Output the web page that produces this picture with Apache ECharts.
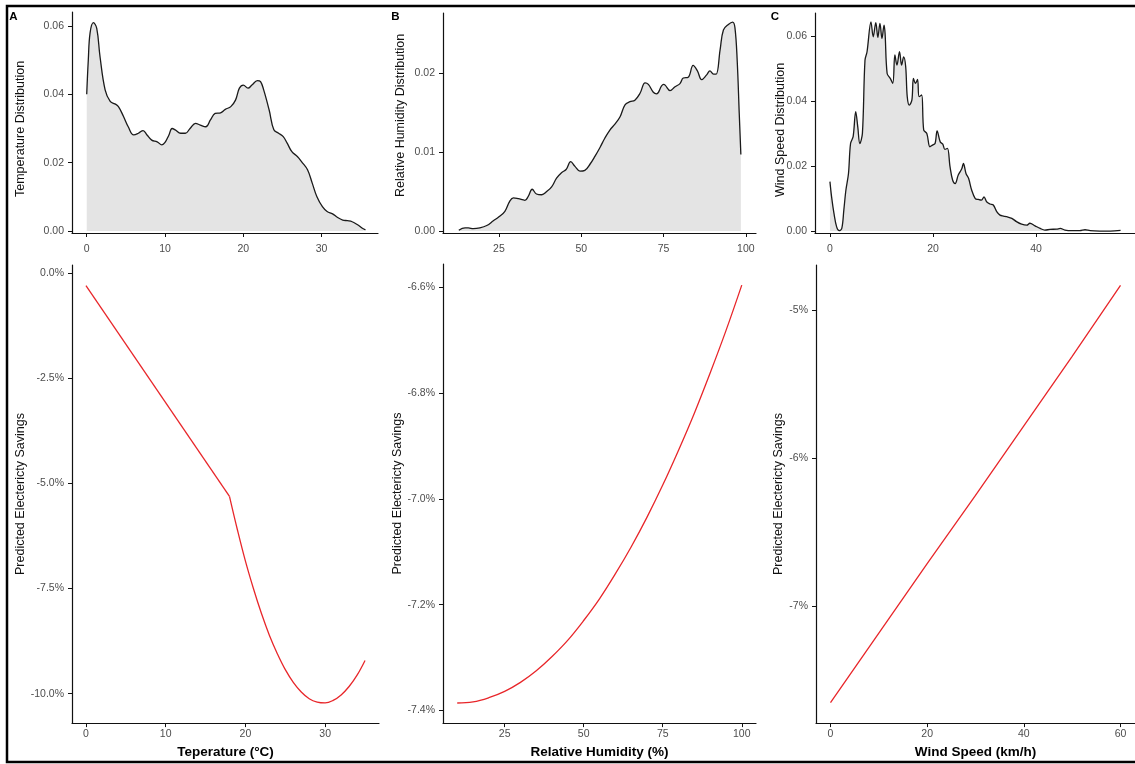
<!DOCTYPE html>
<html>
<head>
<meta charset="utf-8">
<script src="https://cdn.jsdelivr.net/npm/echarts@6/dist/echarts.min.js"></script>
<style>
html,body{margin:0;padding:0;background:#fff;}
#chart{width:1135px;height:764px;}
</style>
</head>
<body>
<div id="chart"></div>
<script>
// ---------- Panel A : temperature ----------
const tempX = [0,0.2,0.43,0.85,1.28,1.7,2.35,3.0,3.6,4.05,4.7,5.3,6.0,6.6,7.2,7.7,8.3,9.0,9.6,10.0,10.5,10.9,11.3,12.0,12.6,13.2,13.9,14.5,15.2,15.8,16.4,17.1,17.7,18.4,19.0,19.5,20.0,20.6,21.1,21.8,22.2,22.6,23.3,23.9,24.5,25.1,25.6,26.2,26.9,27.5,28.2,28.8,29.4,30.1,30.7,31.4,32.0,32.7,33.3,33.9,34.6,35.2,35.6];
const tempDensity = [0.040,0.050,0.058,0.061,0.0593,0.051,0.0413,0.0379,0.0372,0.0364,0.0335,0.0305,0.0281,0.0286,0.0294,0.0281,0.0266,0.0261,0.0252,0.0259,0.0281,0.0300,0.0296,0.0286,0.0286,0.0300,0.0315,0.0310,0.0305,0.0325,0.0344,0.0346,0.0356,0.0364,0.0383,0.0418,0.0427,0.0418,0.0427,0.0440,0.0437,0.0413,0.0354,0.0296,0.0286,0.0276,0.0257,0.0232,0.0218,0.0201,0.0179,0.0140,0.0100,0.0071,0.0057,0.0050,0.0040,0.0032,0.0030,0.0027,0.0018,0.0008,0.0003];
const tempLineX = [0,18];
const tempLineSavings = [-0.30,-5.31];
const tempCurveX = [18,19,20,21,22,23,24,25,26,27,28,29,30,31,32,33,34,35];
const tempCurveSavings = [-5.31,-6.11,-6.85,-7.50,-8.09,-8.61,-9.05,-9.43,-9.73,-9.96,-10.12,-10.20,-10.22,-10.16,-10.03,-9.83,-9.56,-9.21];
const tempXTicks = [0,10,20,30];
const tempDensTicks = [0,0.02,0.04,0.06];
const tempSavTicks = [0,-2.5,-5,-7.5,-10];

// ---------- Panel B : relative humidity ----------
const rhX = [12.8,14.7,15.7,17.2,19.2,21.3,23.3,25.0,26.8,28.3,29.4,30.9,32.9,33.9,35.1,36.4,38.0,39.5,41.0,42.5,44.0,45.4,46.8,48.1,49.6,51.1,52.7,54.2,55.7,57.2,58.7,60.3,61.8,63.3,64.8,66.3,67.9,69.4,70.4,71.9,72.9,74.4,75.0,75.5,77.0,78.5,80.0,81.0,82.5,84.0,85.3,86.6,88.1,89.1,90.2,91.0,92.2,93.2,94.7,96.0,96.7,97.4,98.0,98.5];
const rhDensity = [0.0001,0.0004,0.0004,0.0003,0.0004,0.0007,0.0013,0.0018,0.0025,0.0038,0.0042,0.0041,0.0039,0.0044,0.0053,0.0047,0.0046,0.0050,0.0056,0.0067,0.0074,0.0078,0.0088,0.0082,0.0076,0.0077,0.0085,0.0095,0.0106,0.0118,0.0128,0.0136,0.0145,0.0160,0.0164,0.0166,0.0175,0.0188,0.0186,0.0176,0.0174,0.0184,0.0186,0.0185,0.0178,0.0183,0.0187,0.0194,0.0195,0.0210,0.0203,0.0192,0.0198,0.0203,0.0199,0.0199,0.0230,0.0255,0.0262,0.0265,0.0258,0.0215,0.0150,0.0097];
const rhLineX = [10,15,20,25,30,35,40,45,50,55,60,65,70,75,80,85,90,95,100];
const rhSavings = [-7.386,-7.384,-7.376,-7.364,-7.347,-7.325,-7.298,-7.267,-7.230,-7.189,-7.142,-7.091,-7.035,-6.974,-6.908,-6.838,-6.762,-6.682,-6.596];
const rhXTicks = [25,50,75,100];
const rhDensTicks = [0,0.01,0.02];
const rhSavTicks = [-6.6,-6.8,-7.0,-7.2,-7.4];

// ---------- Panel C : wind speed ----------
const windX = [0,0.32,0.78,1.3,1.8,2.3,2.7,3.1,3.6,4.0,4.5,5.0,5.4,5.8,6.3,6.8,7.2,7.96,8.4,8.9,9.3,9.7,10.1,10.5,10.7,11.1,11.7,12.2,12.6,13.0,13.5,13.9,14.3,14.7,15.0,15.4,15.9,16.2,16.6,17.0,17.3,17.8,18.2,18.8,19.4,19.9,20.4,20.8,21.4,21.9,22.3,22.8,23.3,23.8,24.3,24.9,25.6,25.9,26.4,26.9,27.5,28.2,28.8,29.4,29.9,30.4,31.1,31.7,32.4,33.0,33.7,34.3,35.3,36.2,37.2,38.2,38.8,39.8,40.8,41.7,42.7,44.0,44.7,45.6,46.9,48.5,49.5,50.5,52.4,54.4,56.4];
const windDensity = [0.0152,0.0105,0.0054,0.0013,0.0001,0.0008,0.0065,0.0126,0.0177,0.0269,0.0290,0.0367,0.0320,0.0269,0.0300,0.0525,0.0551,0.0643,0.0597,0.0640,0.0595,0.0638,0.0592,0.0633,0.0607,0.0484,0.0469,0.0454,0.0541,0.0510,0.0551,0.0510,0.0535,0.0505,0.0413,0.0387,0.0402,0.0469,0.0454,0.0466,0.0413,0.0418,0.0310,0.0300,0.0259,0.0264,0.0269,0.0308,0.0274,0.0267,0.0251,0.0254,0.0198,0.0157,0.0146,0.0172,0.0192,0.0208,0.0177,0.0162,0.0126,0.0100,0.0097,0.0095,0.0105,0.0090,0.0083,0.0080,0.0059,0.0049,0.0046,0.0044,0.0039,0.0029,0.0021,0.0018,0.0024,0.0016,0.0008,0.0003,0.0005,0.0006,0.0008,0.0003,0.0001,0.0001,0.0004,0.0001,0.0000,0.0000,0.0002];
const windLineX = [0,10,20,30,40,50,60];
const windSavings = [-7.65,-7.18,-6.71,-6.25,-5.78,-5.31,-4.83];
const windDensXTicks = [0,20,40];
const windSavXTicks = [0,20,40,60];
const windDensTicks = [0,0.02,0.04,0.06];
const windSavTicks = [-5,-6,-7];

// ---------- titles ----------
const panelLetters = ['A','B','C'];
const densityTitles = ['Temperature Distribution','Relative Humidity Distribution','Wind Speed Distribution'];
const savingsTitle = 'Predicted Electericty Savings';
const xTitles = ['Teperature (°C)','Relative Humidity (%)','Wind Speed (km/h)'];

const zip = (xs, ys) => xs.map((x, i) => [x, ys[i]]);

const FONT = "'Liberation Sans', Arial, sans-serif";
const AXIS_COLOR = '#111';
const LABEL_COLOR = '#4d4d4d';
const AREA = '#e4e4e4';
const RED = '#e8262a';

function xAxisDef(grid, min, max, ticks, opts) {
  opts = opts || {};
  return {
    type: 'value', gridIndex: grid, min: min, max: max,
    axisLine: {show: true, onZero: false, lineStyle: {color: AXIS_COLOR, width: 1.2}},
    axisTick: {show: true, length: 4, customValues: ticks, lineStyle: {color: AXIS_COLOR, width: 1}},
    axisLabel: {customValues: ticks, margin: opts.margin || 6, color: LABEL_COLOR, fontSize: 10.5, fontFamily: FONT},
    splitLine: {show: false},
    name: opts.name || '', nameLocation: 'middle', nameGap: opts.nameGap || 14,
    nameTextStyle: {fontFamily: FONT, fontWeight: 'bold', fontSize: 13.5, color: '#000', verticalAlign: 'top'}
  };
}
function yAxisDef(grid, min, max, ticks, fmt, opts) {
  opts = opts || {};
  return {
    type: 'value', gridIndex: grid, min: min, max: max,
    axisLine: {show: true, onZero: false, lineStyle: {color: AXIS_COLOR, width: 1.2}},
    axisTick: {show: true, length: 4, customValues: ticks, lineStyle: {color: AXIS_COLOR, width: 1}},
    axisLabel: {customValues: ticks, margin: 8, color: LABEL_COLOR, fontSize: 10.5, fontFamily: FONT, formatter: fmt},
    splitLine: {show: false},
    name: opts.name || '', nameLocation: 'middle', nameGap: opts.nameGap || 40,
    nameTextStyle: {fontFamily: FONT, fontSize: 12.5, color: '#111'}
  };
}
const f2 = v => v.toFixed(2);
const pct1 = v => v.toFixed(1) + '%';
const pct0 = v => v.toFixed(0) + '%';

function densitySeries(i, xs, ys, smooth) {
  return {type: 'line', xAxisIndex: i, yAxisIndex: i, data: zip(xs, ys), showSymbol: false, smooth: smooth,
    lineStyle: {color: '#1a1a1a', width: 1.3}, areaStyle: {color: AREA, opacity: 1}, silent: true};
}
function redSeries(i, xs, ys, smooth) {
  return {type: 'line', xAxisIndex: i, yAxisIndex: i, data: zip(xs, ys), showSymbol: false, smooth: smooth,
    lineStyle: {color: RED, width: 1.3}, silent: true};
}

const option = {
  backgroundColor: '#fff',
  animation: false,
  grid: [
    {left: 72, top: 12, width: 306, height: 221},
    {left: 443, top: 13, width: 313, height: 220},
    {left: 815, top: 13, width: 320, height: 220},
    {left: 72, top: 265, width: 307, height: 471},
    {left: 443, top: 264, width: 313, height: 472},
    {left: 816, top: 265, width: 320, height: 471}
  ],
  xAxis: [
    xAxisDef(0, -1.88, 37.2, tempXTicks, {margin: 11}),
    xAxisDef(1, 8.0, 103.1, rhXTicks, {margin: 11}),
    xAxisDef(2, -2.9, 59.2, windDensXTicks, {margin: 11}),
    xAxisDef(3, -1.75, 36.75, tempXTicks, {name: xTitles[0], nameGap: 13}),
    xAxisDef(4, 5.5, 104.5, rhXTicks, {name: xTitles[1], nameGap: 13}),
    xAxisDef(5, -3, 63, windSavXTicks, {name: xTitles[2], nameGap: 13})
  ],
  yAxis: [
    yAxisDef(0, -0.0006, 0.0641, tempDensTicks, f2),
    yAxisDef(1, -0.00025, 0.02765, rhDensTicks, f2),
    yAxisDef(2, -0.0006, 0.067, windDensTicks, f2),
    yAxisDef(3, -10.70, 0.19, tempSavTicks, pct1, {name: savingsTitle, nameGap: 45}),
    yAxisDef(4, -7.424, -6.556, rhSavTicks, pct1, {name: savingsTitle, nameGap: 37}),
    yAxisDef(5, -7.788, -4.693, windSavTicks, pct0, {name: savingsTitle, nameGap: 30})
  ],
  series: [
    densitySeries(0, tempX, tempDensity, 0.4),
    densitySeries(1, rhX, rhDensity, 0.4),
    densitySeries(2, windX, windDensity, 0.35),
    redSeries(3, tempLineX, tempLineSavings, false),
    redSeries(3, tempCurveX, tempCurveSavings, 0.4),
    redSeries(4, rhLineX, rhSavings, 0.4),
    redSeries(5, windLineX, windSavings, false)
  ],
  graphic: [
    {type: 'rect', silent: true, z: 100, shape: {x: 7, y: 6, width: 1140, height: 756},
      style: {fill: null, stroke: '#000', lineWidth: 2.5}},
    {type: 'text', x: 13.5, y: 16.5, style: {text: panelLetters[0], font: 'bold 11.5px ' + FONT, fill: '#000', textAlign: 'center', textVerticalAlign: 'middle'}},
    {type: 'text', x: 395.5, y: 16.5, style: {text: panelLetters[1], font: 'bold 11.5px ' + FONT, fill: '#000', textAlign: 'center', textVerticalAlign: 'middle'}},
    {type: 'text', x: 775, y: 16.5, style: {text: panelLetters[2], font: 'bold 11.5px ' + FONT, fill: '#000', textAlign: 'center', textVerticalAlign: 'middle'}},
    {type: 'text', x: 21, y: 197, rotation: Math.PI / 2, style: {text: densityTitles[0], font: '12.5px ' + FONT, fill: '#111', textAlign: 'left', textVerticalAlign: 'middle'}},
    {type: 'text', x: 401, y: 197, rotation: Math.PI / 2, style: {text: densityTitles[1], font: '12.5px ' + FONT, fill: '#111', textAlign: 'left', textVerticalAlign: 'middle'}},
    {type: 'text', x: 781, y: 197, rotation: Math.PI / 2, style: {text: densityTitles[2], font: '12.5px ' + FONT, fill: '#111', textAlign: 'left', textVerticalAlign: 'middle'}}
  ]
};

const chart = echarts.init(document.getElementById('chart'), null, {renderer: 'canvas'});
chart.setOption(option);
</script>
</body>
</html>
